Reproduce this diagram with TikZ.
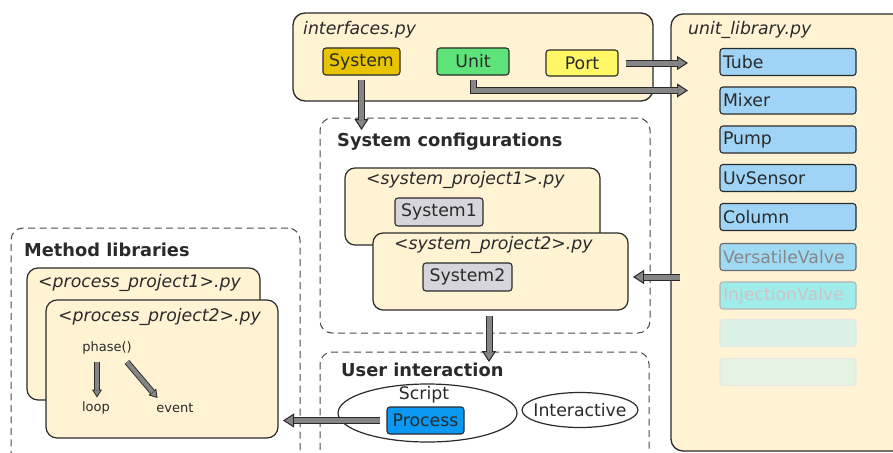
\documentclass[tikz,border=0pt]{standalone}
\usepackage{fontspec}
\setmainfont{DejaVu Sans}
\usetikzlibrary{arrows.meta,shapes.geometric,calc}
\definecolor{cream}{HTML}{FFF3D4}
\definecolor{gold}{HTML}{E8C400}
\definecolor{ugreen}{HTML}{5EE27A}
\definecolor{pyellow}{HTML}{FFF766}
\definecolor{ublue}{HTML}{9FD4F7}
\definecolor{vblue}{HTML}{9FDAF5}
\definecolor{icyan}{HTML}{9EEDEA}
\definecolor{itext}{HTML}{CDC2C6}
\definecolor{blankA}{HTML}{DCF1E5}
\definecolor{blankB}{HTML}{E5F3E2}
\definecolor{sgray}{HTML}{D5D5DB}
\definecolor{pblue}{HTML}{0A98F2}
\definecolor{agray}{HTML}{858585}
\definecolor{edge}{HTML}{2A2A2A}
\tikzset{
  x=1pt, y=-1pt,
  big/.style={draw=edge, line width=1.3pt, fill=cream, rounded corners=12pt, inner sep=0pt},
  dashbox/.style={draw=edge!85, line width=1pt, dash pattern=on 7pt off 4.5pt, rounded corners=12pt, inner sep=0pt},
  lbl/.style={anchor=west, inner sep=0pt, text=edge, font=\fontsize{17.3}{20}\selectfont\itshape},
  head/.style={anchor=west, inner sep=0pt, text=edge, font=\fontsize{17.8}{20}\selectfont\bfseries},
  ibox/.style={draw=edge, line width=1.1pt, rounded corners=3pt, inner sep=0pt, text=edge, font=\fontsize{17.3}{20}\selectfont},
  ubox/.style={ibox, fill=ublue, minimum width=136pt, minimum height=27pt, text width=130pt, align=left},
  small/.style={inner sep=0pt, text=edge, font=\fontsize{13}{15}\selectfont},
  ell/.style={ellipse, draw=edge, line width=1.2pt, fill=white, inner sep=0pt},
  plain/.style={inner sep=0pt, text=edge, font=\fontsize{17.3}{20}\selectfont},
  outA/.style={draw=edge, line width=7pt, -{Triangle[width=14pt,length=11pt,line width=1pt,fill=agray]}},
  inA/.style={draw=agray, line width=5pt, shorten >=10.5pt},
  outS/.style={draw=edge, line width=6pt, -{Triangle[width=10pt,length=8pt,line width=0.8pt,fill=agray]}},
  inS/.style={draw=agray, line width=4.2pt, shorten >=7.6pt},
}
\newcommand\blockarr[2][]{\draw[outA,#1]#2;\draw[inA,#1]#2;}
\newcommand\smallarr[2][]{\draw[outS,#1]#2;\draw[inS,#1]#2;}
\begin{document}
\begin{tikzpicture}
\useasboundingbox (0,0) rectangle (893,452);
\begin{scope}
\clip (0,0) rectangle (893,452);
% containers
\node[big, minimum width=360pt, minimum height=88pt] (ifc) at (473,57) {};
\node[lbl] (ifclbl) at (303,30) {interfaces.py};
\node[big, minimum width=234pt, minimum height=437pt] (ulib) at (788,232.5) {};
\node[lbl] (uliblbl) at (688,30) {unit\_library.py};

\node[dashbox, minimum width=330pt, minimum height=215pt] (cfg) at (485,225.5) {};
\node[head] (cfglbl) at (337,142) {System configurations};
\node[dashbox, minimum width=329pt, minimum height=130pt] (ui) at (484.5,417) {};
\node[head] (uilbl) at (341,370) {User interaction};
\node[dashbox, minimum width=289pt, minimum height=250pt] (ml) at (155.5,353) {};
\node[head] (mllbl) at (24,250) {Method libraries};

% interfaces
\node[ibox, fill=gold, minimum width=77pt, minimum height=27pt] (system) at (361.5,61.5) {System};
\node[ibox, fill=ugreen, minimum width=72pt, minimum height=27pt] (unit) at (473,61.5) {Unit};
\node[ibox, fill=pyellow, minimum width=72pt, minimum height=26pt] (port) at (582,63) {Port};

% unit library
\node[ubox] (tube) at (788,62) {Tube};
\node[ubox] (mixer) at (788,100.5) {Mixer};
\node[ubox] (pump) at (788,139.5) {Pump};
\node[ubox] (uvs) at (788,178) {UvSensor};
\node[ubox] (column) at (788,217) {Column};
\node[ubox, fill=vblue, draw=edge!70, text=black!47] (vvalve) at (788,257) {VersatileValve};
\node[ubox, fill=icyan, draw=black!30, text=itext] (ivalve) at (788,295.5) {InjectionValve};
\node[ubox, fill=blankA, draw=black!10] (blank1) at (788,333) {};
\node[ubox, fill=blankB, draw=black!9] (blank2) at (788,372) {};

% system configurations
\node[big, rounded corners=10pt, line width=1.2pt, minimum width=255pt, minimum height=77pt] (sp1) at (472.5,206.5) {};
\node[lbl] (sp1lbl) at (366,180) {<system\_project1>.py};
\node[ibox, fill=sgray, minimum width=88pt, minimum height=28pt] (sys1) at (439,212) {System1};
\node[big, rounded corners=10pt, line width=1.2pt, minimum width=255pt, minimum height=77pt] (sp2) at (500.5,271.5) {};
\node[lbl] (sp2lbl) at (394,245) {<system\_project2>.py};
\node[ibox, fill=sgray, minimum width=89pt, minimum height=28pt] (sys2) at (467.5,277) {System2};

% user interaction
\node[ell, minimum width=179pt, minimum height=58pt] (script) at (427.5,413) {};
\node[plain] (scriptlbl) at (424,395) {Script};
\node[ibox, fill=pblue, minimum width=77pt, minimum height=27pt] (process) at (425.5,420.5) {Process};
\node[ell, minimum width=116pt, minimum height=35pt] (inter) at (580,410) {};
\node[plain] (interlbl) at (inter.center) {Interactive};

% method libraries
\node[big, rounded corners=11pt, line width=1.2pt, minimum width=233pt, minimum height=132pt] (pp1) at (143.5,334) {};
\node[lbl] (pp1lbl) at (38,283) {<process\_project1>.py};
\node[big, rounded corners=11pt, line width=1.2pt, minimum width=232pt, minimum height=138pt] (pp2) at (162,369) {};
\node[lbl] (pp2lbl) at (58,317) {<process\_project2>.py};
\node[small] (phase) at (107,348) {phase()};
\node[small] (loop) at (96,408) {loop};
\node[small] (event) at (175,408) {event};

% free ends
\coordinate (tubeIn) at (688,62.5);
\coordinate (mixIn) at (688,90.5);
\coordinate (cfgIn) at (362,130);
\coordinate (ulibOut) at (680,277);
\coordinate (sp2In) at (633,277);
\coordinate (cfgOut) at (489,316);
\coordinate (uiIn) at (489,362);
\coordinate (mlIn) at (283,420.5);
\coordinate (loopOut) at (97,362);
\coordinate (loopIn) at (97,397.5);
\coordinate (evOut) at (127,362);
\coordinate (evIn) at (157.5,398);

% connectors
\blockarr[shorten <=7pt]{(port.east) -- (port.east -| tubeIn)}
\blockarr[shorten <=4pt]{(unit.south) |- (mixIn)}
\blockarr[shorten <=4pt]{(system.south) -- (system.south |- cfgIn)}
\blockarr{(ulibOut) -- (sp2In)}
\blockarr{(cfgOut) -- (uiIn)}
\blockarr[shorten <=6pt]{(process.west) -- (process.west -| mlIn)}
\smallarr{(loopOut) -- (loopIn)}
\smallarr{(evOut) -- (evIn)}
\end{scope}
\end{tikzpicture}
\end{document}
